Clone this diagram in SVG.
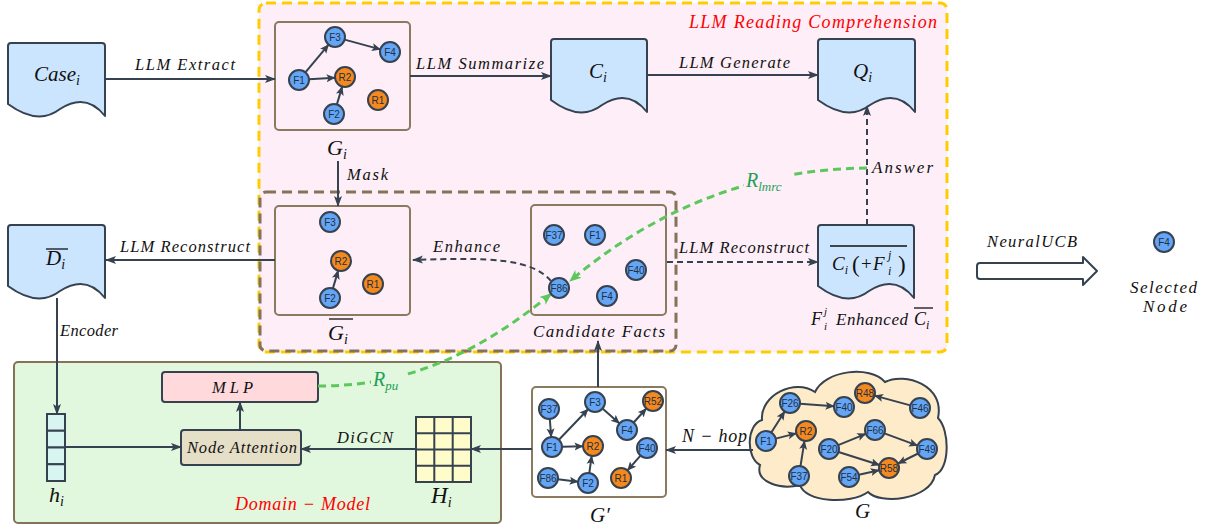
<svg xmlns="http://www.w3.org/2000/svg" width="1210" height="528" viewBox="0 0 1210 528">
<defs>
<style>
.m{font-family:"Liberation Serif","Times New Roman",serif;font-style:italic;fill:#111;}
.lb{font-size:16.5px;}
.red{fill:#ff0000;}
.grn{fill:#1fa055;}
.n circle{stroke:#36424f;stroke-width:2;}
.b{fill:#64a5f6;}
.o{fill:#f5891f;}
.nt{font-family:"Liberation Sans",Arial,sans-serif;font-size:10px;fill:#22303f;text-anchor:middle;}
.ln{stroke:#36424f;stroke-width:2;fill:none;}
.dash{stroke-dasharray:6 4;}
.doc{fill:#cce5ff;stroke:#36424f;stroke-width:2;stroke-linejoin:round;}
.gb{fill:#fdeef8;stroke:#8a7a5f;stroke-width:2;}
.gr{stroke:#5cc85c;stroke-width:3;fill:none;stroke-dasharray:8 5;}
.cell{stroke:#36424f;stroke-width:2;}
.ol{stroke:#111;stroke-width:1.3;}
</style>
<marker id="ah" markerUnits="userSpaceOnUse" markerWidth="12" markerHeight="10" refX="10" refY="5" orient="auto"><path d="M0,1 L11,5 L0,9 L2.5,5 Z" fill="#36424f"/></marker>
<marker id="ahs" markerUnits="userSpaceOnUse" markerWidth="10" markerHeight="9" refX="8.5" refY="4.5" orient="auto"><path d="M0,0.5 L9,4.5 L0,8.5 L2,4.5 Z" fill="#36424f"/></marker>
<marker id="ahg" markerUnits="userSpaceOnUse" markerWidth="14" markerHeight="12" refX="11" refY="6" orient="auto"><path d="M0,1 L12,6 L0,11 L3,6 Z" fill="#5cc85c"/></marker>
</defs>

<!-- regions -->
<g id="region-llm">
<rect x="259" y="3" width="688" height="349" rx="7" fill="#fdeef8" stroke="#ffcc00" stroke-width="3" stroke-dasharray="10 6"/>
<text class="m red" x="689" y="28" font-size="18" textLength="248" lengthAdjust="spacing">LLM Reading Comprehension</text>
</g>
<g id="region-mask">
<rect x="260" y="192" width="416" height="159" rx="6" fill="none" stroke="#857358" stroke-width="3" stroke-dasharray="10 6"/>
</g>
<g id="region-domain">
<rect x="14" y="362" width="487" height="161" rx="4" fill="#e1f7de" stroke="#857358" stroke-width="2"/>
<text class="m red" x="235" y="510" font-size="18" textLength="135" lengthAdjust="spacing">Domain − Model</text>
</g>

<!-- documents -->
<g id="case">
<path class="doc" d="M8,104 V46 Q8,43 11,43 H102 Q105,43 105,46 V116 Q86,92 60,109 Q38,126 8,104 Z"/>
<text class="m" x="34" y="81" font-size="21">Case<tspan font-size="14" dy="4">i</tspan></text>
</g>
<g id="dbar">
<path class="doc" d="M8,286 V228 Q8,225 11,225 H102 Q105,225 105,228 V298 Q86,274 60,291 Q38,308 8,286 Z"/>
<text class="m" x="46" y="265" font-size="21">D<tspan font-size="14" dy="4">i</tspan></text>
<line class="ol" x1="46" y1="249" x2="68" y2="249"/>
</g>
<g id="ci">
<path class="doc" d="M551,100 V42 Q551,39 554,39 H644 Q647,39 647,42 V112 Q628,88 602,105 Q580,122 551,100 Z"/>
<text class="m" x="589" y="78" font-size="21">C<tspan font-size="14" dy="4">i</tspan></text>
</g>
<g id="qi">
<path class="doc" d="M818,100 V42 Q818,39 821,39 H912 Q915,39 915,42 V112 Q896,88 870,105 Q848,122 818,100 Z"/>
<text class="m" x="853" y="78" font-size="21">Q<tspan font-size="14" dy="4">i</tspan></text>
</g>
<g id="enhanced">
<path class="doc" d="M818,286 V228 Q818,225 821,225 H911 Q914,225 914,228 V298 Q895,274 869,291 Q847,308 818,286 Z"/>
<line class="ol" x1="830" y1="246" x2="907" y2="246"/>
<text class="m" x="832" y="270" font-size="19">C<tspan font-size="12" dy="4">i</tspan></text>
<text class="m" x="852" y="272" font-size="23" style="font-style:normal">(</text>
<text class="m" x="861" y="270" font-size="19" style="font-style:normal">+</text>
<text class="m" x="873" y="270" font-size="19">F</text>
<text class="m" x="888" y="259" font-size="12">j</text>
<text class="m" x="888" y="275" font-size="12">i</text>
<text class="m" x="898" y="272" font-size="23" style="font-style:normal">)</text>
<text class="m" x="811" y="325" font-size="18">F</text>
<text class="m" x="824" y="315" font-size="11">j</text>
<text class="m" x="824" y="330" font-size="11">i</text>
<text class="m" x="836" y="325" font-size="17" textLength="72" lengthAdjust="spacing">Enhanced</text>
<text class="m" x="914" y="325" font-size="18">C<tspan font-size="12" dy="4">i</tspan></text>
<line class="ol" x1="914" y1="308" x2="933" y2="308"/>
</g>

<!-- graph boxes -->
<g id="gi-box">
<rect class="gb" x="275" y="22" width="135" height="108" rx="4"/>
<text class="m" x="327" y="155" font-size="22">G<tspan font-size="14" dy="4">i</tspan></text>
</g>
<g id="gbar-box">
<rect class="gb" x="275" y="206" width="135" height="109" rx="4"/>
<text class="m" x="328" y="340" font-size="22">G<tspan font-size="14" dy="4">i</tspan></text>
<line class="ol" x1="329" y1="319" x2="353" y2="319"/>
</g>
<g id="cand-box">
<rect class="gb" x="531" y="205" width="135" height="110" rx="4"/>
<text class="m" x="533" y="337" font-size="17" textLength="132" lengthAdjust="spacing">Candidate Facts</text>
</g>
<g id="gprime-box">
<rect x="532" y="387" width="134" height="110" rx="4" fill="#ffffff" stroke="#8a7a5f" stroke-width="2"/>
<text class="m" x="590" y="522" font-size="21">G′</text>
</g>
<g id="cloud-g">
<path d="M760,465 C746,458 746,425 762,420 C760,395 795,378 815,392 C825,370 870,365 885,382 C905,372 945,385 938,418 C950,430 950,470 935,475 C930,500 880,505 868,492 C850,505 805,502 800,485 C780,490 755,482 760,465 Z" fill="#fdebc9" stroke="#36424f" stroke-width="2"/>
<text class="m" x="855" y="518" font-size="21">G</text>
</g>

<!-- domain model parts -->
<g id="mlp">
<rect x="162" y="372" width="156" height="30" rx="3" fill="#ffd9dc" stroke="#36424f" stroke-width="2"/>
<text class="m lb" x="212" y="393" textLength="41" lengthAdjust="spacing">MLP</text>
</g>
<g id="node-attention">
<rect x="181" y="430" width="120" height="35" rx="3" fill="#e6dfc8" stroke="#36424f" stroke-width="2"/>
<text class="m lb" x="187" y="453" textLength="110" lengthAdjust="spacing">Node Attention</text>
</g>
<g id="hi">
<rect class="cell" x="47" y="414" width="18" height="16.75" fill="#d8f5f2"/>
<rect class="cell" x="47" y="430.75" width="18" height="16.75" fill="#d8f5f2"/>
<rect class="cell" x="47" y="447.5" width="18" height="16.75" fill="#d8f5f2"/>
<rect class="cell" x="47" y="464.25" width="18" height="16.75" fill="#d8f5f2"/>
<text class="m" x="49" y="502" font-size="22">h<tspan font-size="14" dy="4">i</tspan></text>
</g>
<g id="Hi">
<rect x="416" y="417" width="55" height="65" fill="#fffccc" stroke="#36424f" stroke-width="2"/>
<path class="cell" d="M434.3,417 V482 M452.7,417 V482 M416,433.25 H471 M416,449.5 H471 M416,465.75 H471" fill="none"/>
<text class="m" x="431" y="503" font-size="23">H<tspan font-size="14" dy="4">i</tspan></text>
</g>

<!-- NeuralUCB -->
<g id="neuralucb">
<path d="M980,263 H1083 V257 L1097,271 L1083,285 V279 H980 Q977,279 977,276 V266 Q977,263 980,263 Z" fill="#ffffff" stroke="#36424f" stroke-width="2" stroke-linejoin="round"/>
<text class="m lb" x="987" y="247" textLength="90" lengthAdjust="spacing">NeuralUCB</text>
</g>
<g id="selected-node" class="n">
<circle class="b" cx="1164" cy="242" r="10"/>
<text class="nt" x="1164" y="245.5">F4</text>
<text class="m" x="1130" y="293" font-size="17" textLength="67" lengthAdjust="spacing">Selected</text>
<text class="m" x="1143" y="312" font-size="17" textLength="44" lengthAdjust="spacing">Node</text>
</g>

<!-- connectors -->
<g id="connectors">
<line class="ln" x1="105" y1="79" x2="275" y2="79" marker-end="url(#ah)"/>
<text class="m lb" x="135" y="70" textLength="100" lengthAdjust="spacing">LLM Extract</text>
<line class="ln" x1="410" y1="76" x2="551" y2="76" marker-end="url(#ah)"/>
<text class="m lb" x="416" y="69" textLength="128" lengthAdjust="spacing">LLM Summarize</text>
<line class="ln" x1="647" y1="75" x2="818" y2="75" marker-end="url(#ah)"/>
<text class="m lb" x="679" y="68" textLength="111" lengthAdjust="spacing">LLM Generate</text>
<line class="ln" x1="338" y1="161" x2="338" y2="206" marker-end="url(#ah)"/>
<text class="m lb" x="347" y="180" textLength="41" lengthAdjust="spacing">Mask</text>
<line class="ln" x1="275" y1="260" x2="106" y2="260" marker-end="url(#ah)"/>
<text class="m lb" x="120" y="252" textLength="130" lengthAdjust="spacing">LLM Reconstruct</text>
<path class="ln dash" d="M551,281 C532,259 492,257 413,260" marker-end="url(#ah)"/>
<text class="m lb" x="433" y="252" textLength="67" lengthAdjust="spacing">Enhance</text>
<line class="ln dash" x1="667" y1="262" x2="818" y2="262" marker-end="url(#ah)"/>
<text class="m lb" x="679" y="253" textLength="130" lengthAdjust="spacing">LLM Reconstruct</text>
<line class="ln dash" x1="867" y1="225" x2="867" y2="106" marker-end="url(#ah)"/>
<text class="m" x="872" y="173" font-size="17" textLength="61" lengthAdjust="spacing">Answer</text>
<line class="ln" x1="57" y1="298" x2="57" y2="414" marker-end="url(#ah)"/>
<text class="m lb" x="60" y="336" textLength="58" lengthAdjust="spacing">Encoder</text>
<line class="ln" x1="65" y1="447" x2="181" y2="447" marker-end="url(#ah)"/>
<line class="ln" x1="240" y1="430" x2="240" y2="402" marker-end="url(#ah)"/>
<line class="ln" x1="416" y1="449" x2="301" y2="449" marker-end="url(#ah)"/>
<text class="m lb" x="337" y="443" textLength="56" lengthAdjust="spacing">DiGCN</text>
<line class="ln" x1="532" y1="449" x2="471" y2="449" marker-end="url(#ah)"/>
<line class="ln" x1="598" y1="387" x2="598" y2="341" marker-end="url(#ah)"/>
<line class="ln" x1="753" y1="450" x2="666" y2="450" marker-end="url(#ah)"/>
<text class="m" x="682" y="442" font-size="18" textLength="65" lengthAdjust="spacing">N − hop</text>
<!-- reward curves -->
<path class="gr" d="M867,168 C760,169 660,205 570,281" marker-end="url(#ahg)"/>
<rect x="744" y="171" width="46" height="20" fill="#fdeef8"/>
<text class="m grn" x="746" y="187" font-size="20">R<tspan font-size="13" dy="4">lmrc</tspan></text>
<path class="gr" d="M318,386 C400,386 470,360 551,294" marker-end="url(#ahg)"/>
<rect x="371" y="370" width="33" height="22" fill="#e1f7de"/>
<text class="m grn" x="373" y="386" font-size="20">R<tspan font-size="13" dy="4">pu</tspan></text>
<!-- G_i edges -->
<line class="ln" x1="305.4" y1="72.3" x2="328.6" y2="44.7" marker-end="url(#ahs)"/>
<line class="ln" x1="344.6" y1="39.6" x2="380.4" y2="49.4" marker-end="url(#ahs)"/>
<line class="ln" x1="309" y1="79.3" x2="335" y2="77.7" marker-end="url(#ahs)"/>
<line class="ln" x1="336.9" y1="104.4" x2="342.2" y2="86.6" marker-end="url(#ahs)"/>
<!-- masked edges -->
<line class="ln" x1="332.9" y1="288.4" x2="338.2" y2="270.6" marker-end="url(#ahs)"/>
<!-- G' edges -->
<line class="ln" x1="549.8" y1="419" x2="551.2" y2="437" marker-end="url(#ahs)"/>
<line class="ln" x1="558.9" y1="439.8" x2="588.1" y2="409.2" marker-end="url(#ahs)"/>
<line class="ln" x1="602.5" y1="408.6" x2="619.5" y2="423.4" marker-end="url(#ahs)"/>
<line class="ln" x1="633.7" y1="422.5" x2="646.3" y2="408.5" marker-end="url(#ahs)"/>
<line class="ln" x1="562" y1="446.8" x2="583" y2="446.2" marker-end="url(#ahs)"/>
<line class="ln" x1="557.9" y1="479.2" x2="578.1" y2="481.8" marker-end="url(#ahs)"/>
<line class="ln" x1="589.3" y1="473.1" x2="591.7" y2="455.9" marker-end="url(#ahs)"/>
<line class="ln" x1="640.5" y1="455.6" x2="627.5" y2="470.4" marker-end="url(#ahs)"/>
<!-- cloud edges -->
<line class="ln" x1="800" y1="403.7" x2="834" y2="406.3" marker-end="url(#ahs)"/>
<line class="ln" x1="910.4" y1="405.4" x2="874.6" y2="395.6" marker-end="url(#ahs)"/>
<line class="ln" x1="771.3" y1="432.5" x2="784.7" y2="411.5" marker-end="url(#ahs)"/>
<line class="ln" x1="775.7" y1="438.6" x2="796.3" y2="433.4" marker-end="url(#ahs)"/>
<line class="ln" x1="800.5" y1="466.1" x2="804.5" y2="440.9" marker-end="url(#ahs)"/>
<line class="ln" x1="838.2" y1="445.2" x2="865.8" y2="433.8" marker-end="url(#ahs)"/>
<line class="ln" x1="884.4" y1="433.4" x2="917.6" y2="445.6" marker-end="url(#ahs)"/>
<line class="ln" x1="838.5" y1="452" x2="879.5" y2="465" marker-end="url(#ahs)"/>
<line class="ln" x1="918.1" y1="453.5" x2="897.9" y2="463.5" marker-end="url(#ahs)"/>
<line class="ln" x1="858.8" y1="474.8" x2="879.2" y2="470.2" marker-end="url(#ahs)"/>
</g>

<!-- G_i nodes -->
<g id="gi-F3" class="n"><circle class="b" cx="335" cy="37" r="10"/><text class="nt" x="335" y="40.5">F3</text></g>
<g id="gi-F4" class="n"><circle class="b" cx="390" cy="52" r="10"/><text class="nt" x="390" y="55.5">F4</text></g>
<g id="gi-F1" class="n"><circle class="b" cx="299" cy="80" r="10"/><text class="nt" x="299" y="83.5">F1</text></g>
<g id="gi-R2" class="n"><circle class="o" cx="345" cy="77" r="10"/><text class="nt" x="345" y="80.5">R2</text></g>
<g id="gi-R1" class="n"><circle class="o" cx="378" cy="100" r="10"/><text class="nt" x="378" y="103.5">R1</text></g>
<g id="gi-F2" class="n"><circle class="b" cx="334" cy="114" r="10"/><text class="nt" x="334" y="117.5">F2</text></g>
<!-- masked nodes -->
<g id="gm-F3" class="n"><circle class="b" cx="330" cy="222" r="10"/><text class="nt" x="330" y="225.5">F3</text></g>
<g id="gm-R2" class="n"><circle class="o" cx="341" cy="261" r="10"/><text class="nt" x="341" y="264.5">R2</text></g>
<g id="gm-R1" class="n"><circle class="o" cx="373" cy="284" r="10"/><text class="nt" x="373" y="287.5">R1</text></g>
<g id="gm-F2" class="n"><circle class="b" cx="330" cy="298" r="10"/><text class="nt" x="330" y="301.5">F2</text></g>
<!-- candidate nodes -->
<g id="cf-F37" class="n"><circle class="b" cx="554" cy="235" r="10"/><text class="nt" x="554" y="238.5">F37</text></g>
<g id="cf-F1" class="n"><circle class="b" cx="595" cy="235" r="10"/><text class="nt" x="595" y="238.5">F1</text></g>
<g id="cf-F40" class="n"><circle class="b" cx="636" cy="270" r="10"/><text class="nt" x="636" y="273.5">F40</text></g>
<g id="cf-F86" class="n"><circle class="b" cx="559" cy="288" r="10"/><text class="nt" x="559" y="291.5">F86</text></g>
<g id="cf-F4" class="n"><circle class="b" cx="607" cy="296" r="10"/><text class="nt" x="607" y="299.5">F4</text></g>
<!-- G' nodes -->
<g id="gp-F37" class="n"><circle class="b" cx="549" cy="409" r="10"/><text class="nt" x="549" y="412.5">F37</text></g>
<g id="gp-F3" class="n"><circle class="b" cx="595" cy="402" r="10"/><text class="nt" x="595" y="405.5">F3</text></g>
<g id="gp-R52" class="n"><circle class="o" cx="653" cy="401" r="10"/><text class="nt" x="653" y="404.5">R52</text></g>
<g id="gp-F1" class="n"><circle class="b" cx="552" cy="447" r="10"/><text class="nt" x="552" y="450.5">F1</text></g>
<g id="gp-R2" class="n"><circle class="o" cx="593" cy="446" r="10"/><text class="nt" x="593" y="449.5">R2</text></g>
<g id="gp-F4" class="n"><circle class="b" cx="627" cy="430" r="10"/><text class="nt" x="627" y="433.5">F4</text></g>
<g id="gp-F40" class="n"><circle class="b" cx="647" cy="448" r="10"/><text class="nt" x="647" y="451.5">F40</text></g>
<g id="gp-F86" class="n"><circle class="b" cx="548" cy="478" r="10"/><text class="nt" x="548" y="481.5">F86</text></g>
<g id="gp-F2" class="n"><circle class="b" cx="588" cy="483" r="10"/><text class="nt" x="588" y="486.5">F2</text></g>
<g id="gp-R1" class="n"><circle class="o" cx="621" cy="478" r="10"/><text class="nt" x="621" y="481.5">R1</text></g>
<!-- cloud nodes -->
<g id="g-F26" class="n"><circle class="b" cx="790" cy="403" r="10"/><text class="nt" x="790" y="406.5">F26</text></g>
<g id="g-F40" class="n"><circle class="b" cx="844" cy="407" r="10"/><text class="nt" x="844" y="410.5">F40</text></g>
<g id="g-R48" class="n"><circle class="o" cx="865" cy="393" r="10"/><text class="nt" x="865" y="396.5">R48</text></g>
<g id="g-F46" class="n"><circle class="b" cx="920" cy="408" r="10"/><text class="nt" x="920" y="411.5">F46</text></g>
<g id="g-F1" class="n"><circle class="b" cx="766" cy="441" r="10"/><text class="nt" x="766" y="444.5">F1</text></g>
<g id="g-R2" class="n"><circle class="o" cx="806" cy="431" r="10"/><text class="nt" x="806" y="434.5">R2</text></g>
<g id="g-F66" class="n"><circle class="b" cx="875" cy="430" r="10"/><text class="nt" x="875" y="433.5">F66</text></g>
<g id="g-F20" class="n"><circle class="b" cx="829" cy="449" r="10"/><text class="nt" x="829" y="452.5">F20</text></g>
<g id="g-F49" class="n"><circle class="b" cx="927" cy="449" r="10"/><text class="nt" x="927" y="452.5">F49</text></g>
<g id="g-F37" class="n"><circle class="b" cx="799" cy="476" r="10"/><text class="nt" x="799" y="479.5">F37</text></g>
<g id="g-F54" class="n"><circle class="b" cx="849" cy="477" r="10"/><text class="nt" x="849" y="480.5">F54</text></g>
<g id="g-R58" class="n"><circle class="o" cx="889" cy="468" r="10"/><text class="nt" x="889" y="471.5">R58</text></g>
</svg>
